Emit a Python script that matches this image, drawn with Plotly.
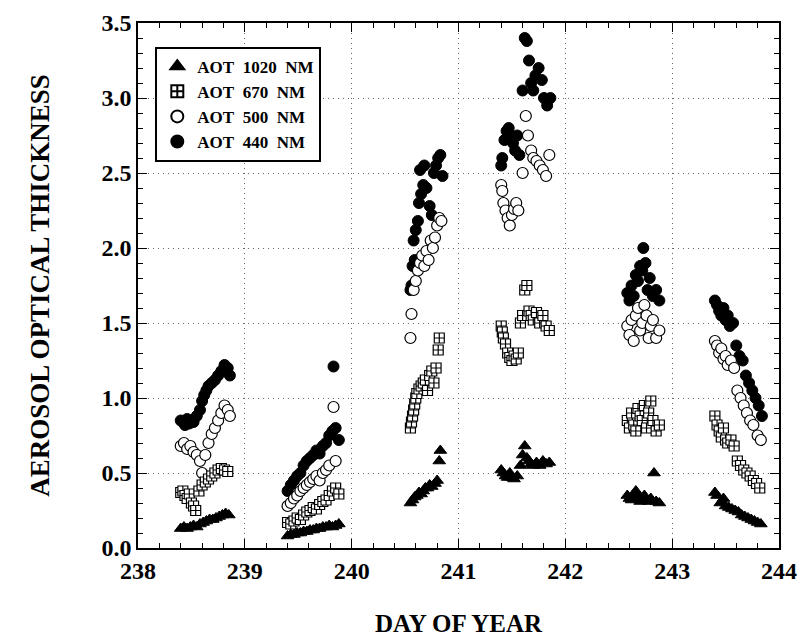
import plotly.graph_objects as go

# ---- data ----
day_1020 = [238.40,238.43,238.46,238.49,238.52,238.55,238.58,238.61,238.64,238.67,238.70,238.73,238.76,238.79,238.82,238.85,
            239.40,239.43,239.46,239.49,239.52,239.55,239.58,239.61,239.64,239.67,239.70,239.73,239.76,239.79,239.82,239.85,239.88,
            240.55,240.57,240.59,240.61,240.63,240.65,240.67,240.69,240.71,240.73,240.75,240.78,240.80,240.82,240.83,
            241.40,241.42,241.44,241.46,241.48,241.50,241.52,241.55,241.58,241.60,241.62,241.64,241.66,241.68,241.70,241.73,241.76,241.79,241.82,241.85,
            242.58,242.60,242.62,242.64,242.66,242.68,242.70,242.72,242.74,242.76,242.78,242.80,242.83,242.85,242.88,
            243.40,243.42,243.45,243.48,243.50,243.53,243.56,243.59,243.62,243.65,243.68,243.71,243.74,243.77,243.80,243.83]
aot_1020 = [0.13,0.14,0.13,0.14,0.15,0.14,0.16,0.17,0.18,0.19,0.19,0.20,0.21,0.22,0.23,0.22,
            0.08,0.09,0.09,0.10,0.10,0.11,0.11,0.12,0.12,0.13,0.13,0.14,0.14,0.15,0.14,0.15,0.16,
            0.30,0.32,0.34,0.35,0.37,0.36,0.38,0.40,0.40,0.42,0.41,0.43,0.45,0.58,0.65,
            0.52,0.50,0.48,0.47,0.50,0.47,0.46,0.48,0.55,0.62,0.68,0.60,0.58,0.56,0.55,0.57,0.55,0.58,0.56,0.57,
            0.35,0.33,0.32,0.36,0.38,0.34,0.31,0.33,0.35,0.32,0.31,0.33,0.50,0.31,0.30,
            0.37,0.35,0.30,0.33,0.28,0.27,0.26,0.25,0.24,0.22,0.21,0.20,0.19,0.18,0.17,0.16]

day_670 = [238.40,238.42,238.44,238.46,238.48,238.50,238.52,238.54,238.57,238.60,238.63,238.66,238.69,238.72,238.75,238.78,238.81,238.84,
           239.40,239.43,239.46,239.49,239.52,239.55,239.58,239.61,239.64,239.67,239.70,239.73,239.76,239.79,239.82,239.85,239.88,
           240.55,240.56,240.57,240.58,240.59,240.60,240.61,240.63,240.65,240.67,240.69,240.71,240.73,240.75,240.77,240.79,240.81,240.82,
           241.40,241.41,241.42,241.44,241.46,241.48,241.50,241.52,241.54,241.56,241.58,241.60,241.62,241.64,241.66,241.68,241.70,241.73,241.76,241.79,241.82,241.85,
           242.58,242.60,242.62,242.64,242.66,242.68,242.70,242.72,242.74,242.76,242.78,242.80,242.82,242.85,242.88,
           243.40,243.42,243.44,243.46,243.48,243.50,243.52,243.55,243.58,243.61,243.64,243.67,243.70,243.73,243.76,243.79,243.82]
aot_670 = [0.37,0.38,0.35,0.33,0.36,0.30,0.28,0.25,0.38,0.42,0.44,0.46,0.48,0.50,0.52,0.53,0.52,0.51,
           0.17,0.16,0.18,0.20,0.19,0.22,0.24,0.25,0.27,0.26,0.29,0.31,0.32,0.35,0.38,0.40,0.36,
           0.80,0.84,0.88,0.92,0.96,1.00,1.03,1.06,1.08,1.10,1.12,1.05,1.15,1.18,1.10,1.20,1.32,1.40,
           1.48,1.44,1.40,1.36,1.30,1.27,1.25,1.28,1.26,1.30,1.50,1.55,1.72,1.75,1.58,1.55,1.52,1.57,1.50,1.55,1.48,1.45,
           0.85,0.80,0.90,0.82,0.78,0.93,0.88,0.85,0.95,0.80,0.90,0.98,0.85,0.78,0.82,
           0.88,0.82,0.78,0.74,0.80,0.72,0.70,0.72,0.68,0.58,0.55,0.52,0.50,0.48,0.45,0.43,0.40]

day_500 = [238.40,238.43,238.46,238.49,238.52,238.55,238.58,238.60,238.63,238.66,238.69,238.72,238.75,238.78,238.81,238.84,238.86,
           239.40,239.43,239.46,239.49,239.52,239.55,239.58,239.61,239.64,239.67,239.70,239.73,239.76,239.79,239.83,239.85,
           240.55,240.56,240.58,240.60,240.62,240.64,240.66,240.68,240.70,240.72,240.74,240.76,240.78,240.80,240.82,240.84,
           241.40,241.41,241.42,241.44,241.46,241.48,241.50,241.52,241.54,241.56,241.60,241.63,241.65,241.68,241.70,241.73,241.76,241.79,241.82,241.85,
           242.58,242.60,242.62,242.64,242.66,242.68,242.70,242.72,242.74,242.76,242.78,242.80,242.82,242.85,242.88,
           243.40,243.42,243.44,243.46,243.48,243.50,243.52,243.55,243.58,243.61,243.64,243.67,243.70,243.73,243.76,243.80,243.83]
aot_500 = [0.68,0.70,0.66,0.68,0.64,0.62,0.58,0.50,0.62,0.70,0.76,0.80,0.85,0.90,0.95,0.92,0.88,
           0.28,0.30,0.33,0.35,0.38,0.40,0.42,0.44,0.46,0.48,0.45,0.50,0.52,0.55,0.94,0.58,
           1.40,1.56,1.72,1.78,1.85,1.90,1.95,1.88,1.98,1.92,2.05,2.00,2.07,2.15,2.20,2.18,
           2.42,2.38,2.30,2.25,2.20,2.15,2.22,2.26,2.30,2.25,2.50,2.88,2.75,2.65,2.60,2.58,2.55,2.52,2.48,2.62,
           1.48,1.42,1.52,1.38,1.55,1.60,1.45,1.50,1.62,1.55,1.40,1.48,1.52,1.40,1.45,
           1.38,1.35,1.30,1.33,1.26,1.28,1.22,1.25,1.20,1.05,1.00,0.95,0.90,0.85,0.82,0.75,0.72]

day_440 = [238.40,238.42,238.44,238.46,238.48,238.50,238.52,238.55,238.58,238.60,238.62,238.64,238.66,238.69,238.72,238.75,238.78,238.81,238.84,238.86,
           239.40,239.43,239.46,239.49,239.52,239.55,239.58,239.61,239.64,239.67,239.70,239.73,239.76,239.79,239.82,239.83,239.85,239.88,
           240.55,240.56,240.57,240.59,240.58,240.60,240.62,240.63,240.65,240.67,240.64,240.68,240.70,240.73,240.75,240.77,240.79,240.81,240.83,240.85,
           241.40,241.41,241.43,241.45,241.47,241.49,241.51,241.53,241.55,241.57,241.60,241.62,241.64,241.66,241.68,241.70,241.72,241.75,241.78,241.80,241.83,241.86,
           242.58,242.60,242.62,242.64,242.66,242.68,242.70,242.72,242.73,242.75,242.77,242.79,242.82,242.85,242.88,
           243.40,243.42,243.44,243.46,243.48,243.50,243.52,243.54,243.57,243.60,243.63,243.66,243.69,243.72,243.75,243.78,243.81,243.84]
aot_440 = [0.85,0.84,0.82,0.86,0.83,0.85,0.84,0.88,0.92,0.98,1.02,1.05,1.08,1.10,1.12,1.15,1.18,1.22,1.20,1.15,
           0.38,0.42,0.45,0.48,0.50,0.55,0.58,0.60,0.62,0.65,0.63,0.68,0.70,0.75,0.78,1.21,0.80,0.72,
           1.72,1.75,1.88,1.92,2.05,2.12,2.18,2.30,2.36,2.42,2.52,2.55,2.40,2.28,2.22,2.50,2.55,2.60,2.62,2.48,
           2.55,2.60,2.72,2.78,2.80,2.75,2.70,2.65,2.75,2.62,3.05,3.40,3.38,3.25,3.10,3.05,3.15,3.20,3.12,3.00,2.95,3.00,
           1.70,1.65,1.75,1.68,1.82,1.78,1.88,1.85,2.00,1.90,1.72,1.80,1.68,1.72,1.65,
           1.65,1.62,1.58,1.55,1.60,1.52,1.55,1.48,1.50,1.35,1.28,1.25,1.15,1.10,1.05,1.00,0.95,0.88]

x_ticks = [238, 239, 240, 241, 242, 243, 244]
y_ticks = [0.0, 0.5, 1.0, 1.5, 2.0, 2.5, 3.0, 3.5]

NB = "\u00a0"
label_1020 = f"AOT{NB}{NB}1020{NB}{NB}NM"
label_670 = f"AOT{NB}{NB}670{NB}{NB}NM"
label_500 = f"AOT{NB}{NB}500{NB}{NB}NM"
label_440 = f"AOT{NB}{NB}440{NB}{NB}NM"

FONT = "Liberation Serif"
MS = 11

fig = go.Figure()
fig.add_trace(go.Scatter(x=day_440, y=aot_440, mode="markers", name=label_440, legendrank=4,
                         marker=dict(symbol="circle", size=MS, color="black", line=dict(color="black", width=1))))
fig.add_trace(go.Scatter(x=day_500, y=aot_500, mode="markers", name=label_500, legendrank=3,
                         marker=dict(symbol="circle", size=MS, color="white", line=dict(color="black", width=1.2))))
fig.add_trace(go.Scatter(x=day_670, y=aot_670, mode="markers", name=label_670, legendrank=2,
                         marker=dict(symbol="square-cross", size=MS - 1, color="white", line=dict(color="black", width=1.2))))
fig.add_trace(go.Scatter(x=day_1020, y=aot_1020, mode="markers", name=label_1020, legendrank=1,
                         marker=dict(symbol="triangle-up", size=MS, color="black", line=dict(color="black", width=1))))

axis_common = dict(
    showline=True, linecolor="black", linewidth=1.5, mirror="ticks",
    ticks="inside", ticklen=9, tickwidth=1.2, tickcolor="black",
    showgrid=True, gridcolor="#666", griddash="1px,4px", gridwidth=1,
    zeroline=False,
    tickfont=dict(family=FONT, size=24, color="black", weight="bold"),
)

fig.update_xaxes(range=[238, 244], tickvals=x_ticks, ticktext=[str(v) for v in x_ticks],
                 minor=dict(ticks="inside", ticklen=5, dtick=0.2, tickcolor="black", showgrid=False),
                 title=dict(text="DAY OF YEAR", standoff=38,
                            font=dict(family=FONT, size=25, color="black", weight="bold")),
                 **axis_common)
fig.update_yaxes(range=[0, 3.5], tickvals=y_ticks, ticktext=[f"{v:.1f}" for v in y_ticks],
                 minor=dict(ticks="inside", ticklen=5, dtick=0.1, tickcolor="black", showgrid=False),
                 title=dict(text="AEROSOL OPTICAL THICKNESS", standoff=44,
                            font=dict(family=FONT, size=27, color="black", weight="bold")),
                 **axis_common)

fig.update_layout(
    width=800, height=637,
    margin=dict(l=138, r=21, t=23, b=89, autoexpand=False),
    paper_bgcolor="white", plot_bgcolor="white",
    showlegend=True,
    legend=dict(x=0.027, y=0.955, xanchor="left", yanchor="top",
                bgcolor="white", bordercolor="black", borderwidth=2,
                font=dict(family=FONT, size=17, color="black", weight="bold"),
                itemsizing="constant", tracegroupgap=0),
)

fig.write_html("out.html")
